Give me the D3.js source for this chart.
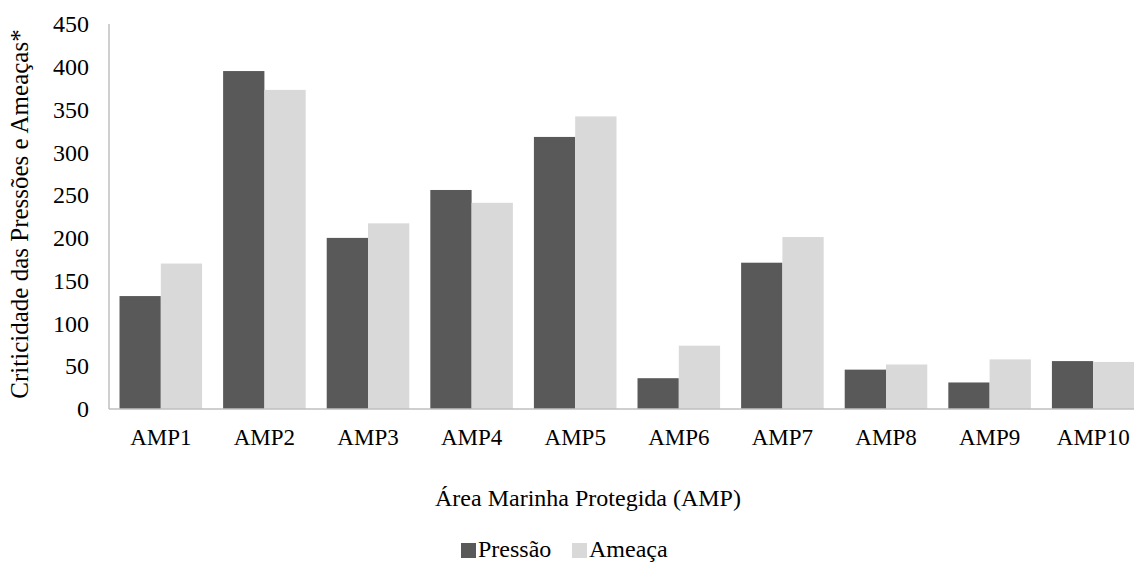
<!DOCTYPE html>
<html>
<head>
<meta charset="utf-8">
<title>Criticidade</title>
<script src="https://d3js.org/d3.v7.min.js"></script>
<style>
  body { margin: 0; background: #fff; }
</style>
</head>
<body>
<div class="chart"></div>
<script>
var categories = ["AMP1", "AMP2", "AMP3", "AMP4", "AMP5", "AMP6", "AMP7", "AMP8", "AMP9", "AMP10"];
var pressao = [132, 395, 200, 256, 318, 36, 171, 46, 31, 56];
var ameaca = [170, 373, 217, 241, 342, 74, 201, 52, 58, 55];
var seriesNames = ["Pressão", "Ameaça"];
var seriesColors = ["#595959", "#d9d9d9"];
var yTicks = [0, 50, 100, 150, 200, 250, 300, 350, 400, 450];

var FONT = "'Liberation Serif', 'Times New Roman', serif";

var svgDims = {width: 1134, height: 565};
var margin = {top: 24, left: 109, bottom: 156, right: -11};

var svg = d3.select(".chart").append("svg")
  .attr("width", svgDims.width)
  .attr("height", svgDims.height)
  .style("font-family", FONT);

var x_scale = d3.scaleBand()
  .domain(categories)
  .range([margin.left, svgDims.width - margin.right])
  .paddingInner(0.203)
  .paddingOuter(0.1015);

var x_inner = d3.scaleBand()
  .domain(seriesNames)
  .range([0, x_scale.bandwidth()]);

var y_scale = d3.scaleLinear()
  .domain([0, 450])
  .range([svgDims.height - margin.bottom, margin.top]);

var baseline = y_scale(0);

// barras
var data = categories.map(function(c, i) {
  return {cat: c, vals: [pressao[i], ameaca[i]]};
});

var groups = svg.append("g").selectAll("g")
  .data(data).enter().append("g")
  .attr("transform", function(d) { return "translate(" + x_scale(d.cat) + ",0)"; });

groups.selectAll("rect")
  .data(function(d) { return d.vals.map(function(v, j) { return {v: v, s: seriesNames[j], c: seriesColors[j]}; }); })
  .enter().append("rect")
  .attr("x", function(d) { return x_inner(d.s); })
  .attr("width", x_inner.bandwidth())
  .attr("y", function(d) { return y_scale(d.v); })
  .attr("height", function(d) { return baseline - y_scale(d.v); })
  .attr("fill", function(d) { return d.c; });

// eixos
var y_axis = d3.axisLeft(y_scale).tickValues(yTicks).tickSize(0).tickPadding(20);
var gy = svg.append("g")
  .attr("transform", "translate(" + margin.left + ",0)")
  .call(y_axis);
gy.select(".domain").remove();
gy.attr("font-family", null).attr("font-size", null);
gy.selectAll("text").style("font-family", FONT).style("font-size", "24px").attr("fill", "#000");

var x_axis = d3.axisBottom(x_scale).tickSize(0).tickPadding(20);
var gx = svg.append("g")
  .attr("transform", "translate(0," + baseline + ")")
  .call(x_axis);
gx.select(".domain").remove();
gx.attr("font-family", null).attr("font-size", null);
gx.selectAll("text").style("font-family", FONT).style("font-size", "23px").attr("fill", "#000");

svg.append("line")
  .attr("x1", margin.left).attr("x2", margin.left)
  .attr("y1", y_scale(450)).attr("y2", baseline)
  .attr("stroke", "#bfbfbf").attr("stroke-width", 1.5);
svg.append("line")
  .attr("x1", margin.left).attr("x2", svgDims.width)
  .attr("y1", baseline).attr("y2", baseline)
  .attr("stroke", "#bfbfbf").attr("stroke-width", 1.5);

// títulos
svg.append("text")
  .attr("transform", "translate(28," + 214 + ") rotate(-90)")
  .attr("text-anchor", "middle")
  .style("font-family", FONT)
  .style("font-size", "25px")
  .text("Criticidade das Pressões e Ameaças*");

svg.append("text")
  .attr("x", 588).attr("y", 506)
  .attr("text-anchor", "middle")
  .style("font-family", FONT)
  .style("font-size", "24px")
  .text("Área Marinha Protegida (AMP)");

// legenda
var legendX = [461, 572];
var legend = svg.append("g").selectAll("g")
  .data(seriesNames).enter().append("g")
  .attr("transform", function(d, i) { return "translate(" + legendX[i] + ",557)"; });
legend.append("rect")
  .attr("x", 0).attr("y", -14).attr("width", 15).attr("height", 15)
  .attr("fill", function(d, i) { return seriesColors[i]; });
legend.append("text")
  .attr("x", 17).attr("y", 0)
  .style("font-family", FONT)
  .style("font-size", "24px")
  .text(function(d) { return d; });
</script>
</body>
</html>
